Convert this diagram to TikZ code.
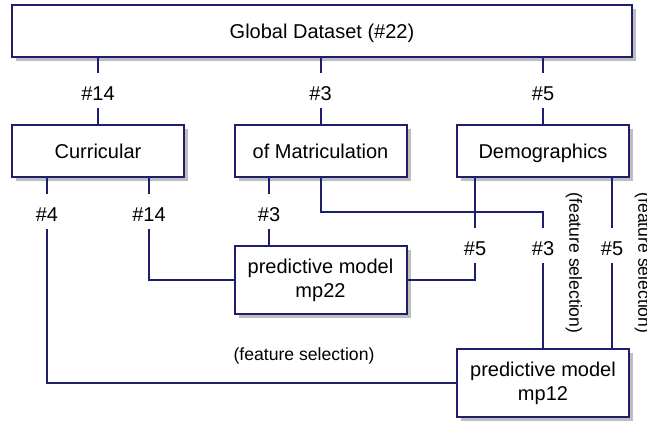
\documentclass[tikz,border=0pt]{standalone}
\usepackage{fontspec}
\setmainfont{Liberation Sans}
\usetikzlibrary{shadows}
\definecolor{boxline}{RGB}{30,30,110}
\definecolor{boxshadow}{RGB}{190,190,190}

\begin{document}
\begin{tikzpicture}[
        x=0.5pt, y=-0.5pt,
        font=\fontsize{10}{12}\selectfont,
        box/.style={
                draw=boxline,
                line width=1pt,
                fill=white,
                align=center,
                minimum width=86pt,
                minimum height=26pt,
                drop shadow={shadow xshift=2pt, shadow yshift=-2pt, fill=boxshadow, opacity=1}
            },
        category/.style={box, text height=9.9pt, text depth=2pt},
        model/.style={box, minimum height=34pt, execute at begin node={\rule{0pt}{9.6pt}}},
        count/.style={inner sep=0pt, minimum height=17.5pt, text height=9.7pt, text depth=0pt},
        note/.style={font=\fontsize{8.8}{10}\selectfont},
        link/.style={draw=boxline, line width=1pt},
    ]
    \useasboundingbox (0,0) rectangle (647,422);
    % Boxes
    \node[category, minimum width=310pt] (global) at (322,31) {Global Dataset (\#22)};
    \node[category] (curr) at (98,151) {Curricular};
    \node[category] (matric) at (320.5,151) {of Matriculation};
    \node[category] (demo) at (543,151) {Demographics};
    \node[model] (mp22) at (320.5,280) {predictive model\\mp22};
    \node[model] (mp12) at (543,383) {predictive model\\mp12};

    % Counts
    \node[count] (t14) at (curr |- 0,90.5) {\#14};
    \node[count] (t3) at (matric |- 0,90.5) {\#3};
    \node[count] (t5) at (demo |- 0,90.5) {\#5};
    \node[count] (c4) at (47,211.5) {\#4};
    \node[count] (c14) at (149,211.5) {\#14};
    \node[count] (m3) at (269,211.5) {\#3};
    \node[count] (d5) at (475,245.5) {\#5};
    \node[count] (r3) at (mp12 |- 0,245.5) {\#3};
    \node[count] (r5) at (612,245.5) {\#5};
    \coordinate (mbend) at (mp12 |- 0,212);

    % Notes
    \node[note, rotate=-90] (fs1) at (574,263) {(feature selection)};
    \node[note, rotate=-90] (fs2) at (643,263) {(feature selection)};
    \node[note] (fs3) at (304,356) {(feature selection)};

    % Links
    \draw[link] (global.south -| t14) -- (t14) -- (curr.north);
    \draw[link] (global.south -| t3) -- (t3) -- (matric.north);
    \draw[link] (global.south -| t5) -- (t5) -- (demo.north);
    \draw[link] (curr.south -| c4) -- (c4);
    \draw[link] (c4.south) |- (mp12.west);
    \draw[link] (curr.south -| c14) -- (c14);
    \draw[link] (c14.south) |- (mp22.west);
    \draw[link] (matric.south -| m3) -- (m3) -- (mp22.north -| m3);
    \draw[link] (matric.south) |- (mbend) -- (r3.north);
    \draw[link] (r3.south) -- (mp12.north);
    \draw[link] (demo.south -| d5) -- (d5);
    \draw[link] (d5.south) |- (mp22.east);
    \draw[link] (demo.south -| r5) -- (r5) -- (mp12.north -| r5);
\end{tikzpicture}
\end{document}
